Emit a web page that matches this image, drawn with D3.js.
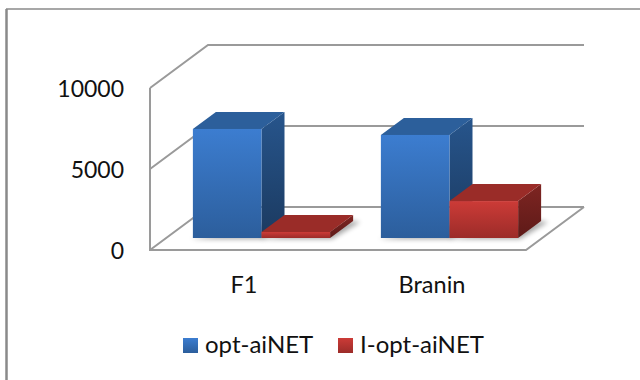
<!DOCTYPE html>
<html>
<head>
<meta charset="utf-8">
<script src="https://cdn.jsdelivr.net/npm/d3@7"></script>
<style>
  html, body { margin: 0; padding: 0; background: #fff; }
  svg { display: block; }
  text { font-family: Lato, "Open Sans", sans-serif; fill: #111; }
</style>
</head>
<body>
<svg width="640" height="380"></svg>
<script>
const categories = ["F1", "Branin"];
const seriesNames = ["opt-aiNET", "I-opt-aiNET"];
const optValues = [6730, 6360];
const iOptValues = [370, 2280];
const yTicks = [0, 5000, 10000];

const seriesColors = {
  "opt-aiNET": { top: "#2c5f9b", hi: "#3c7dd0", lo: "#2c5e9c", sideHi: "#27558c", sideLo: "#1b3a60" },
  "I-opt-aiNET": { top: "#9a2c28", hi: "#cc3b37", lo: "#9c2c29", sideHi: "#7e2522", sideLo: "#5e1a18" }
};

const svg = d3.select("svg");
const defs = svg.append("defs");

// 3d box layout
const floorX = [150, 526];
const floorY = 250;
const wallDx = 58, wallDy = -43;
const barInsetX = 17.5, barInsetY = -12;
const barDx = 23, barDy = -17;

const yScale = d3.scaleLinear().domain([0, 10000]).range([floorY, 88]);

const x0 = d3.scaleBand().domain(categories).range(floorX);
const x1 = d3.scaleBand()
  .domain(seriesNames)
  .range([0, x0.bandwidth()])
  .paddingInner(0)
  .paddingOuter(0.37);

const rows = seriesNames.flatMap((s, si) =>
  categories.map((c, ci) => ({ series: s, cat: c, value: [optValues, iOptValues][si][ci] }))
);

const line = d3.line();

// gradients
Object.entries(seriesColors).forEach(([name, c], i) => {
  const front = defs.append("linearGradient").attr("id", `front${i}`)
    .attr("x1", 0).attr("y1", 0).attr("x2", 0).attr("y2", 1);
  front.append("stop").attr("offset", 0).attr("stop-color", c.hi);
  front.append("stop").attr("offset", 1).attr("stop-color", c.lo);
  const side = defs.append("linearGradient").attr("id", `side${i}`)
    .attr("x1", 0).attr("y1", 0).attr("x2", 0).attr("y2", 1);
  side.append("stop").attr("offset", 0).attr("stop-color", c.sideHi);
  side.append("stop").attr("offset", 1).attr("stop-color", c.sideLo);
});
defs.append("filter").attr("id", "blur")
  .attr("x", "-30%").attr("y", "-60%").attr("width", "160%").attr("height", "220%")
  .append("feGaussianBlur").attr("stdDeviation", 2.5);

// outer frame, only top and left are inside the crop
svg.append("line").attr("x1", 6).attr("y1", 9).attr("x2", 640).attr("y2", 9)
  .attr("stroke", "#8a8a8a").attr("stroke-width", 1.5);
svg.append("line").attr("x1", 6.5).attr("y1", 9).attr("x2", 6.5).attr("y2", 380)
  .attr("stroke", "#8a8a8a").attr("stroke-width", 2.5);

// walls and gridlines
const grid = svg.append("g").attr("fill", "none").attr("stroke", "#9a9a9a").attr("stroke-width", 2);
yTicks.forEach((t) => {
  const y = yScale(t);
  const pts = [[floorX[0], y], [floorX[0] + wallDx, y + wallDy], [floorX[1] + wallDx, y + wallDy]];
  grid.append("path").attr("d", line(pts));
});
grid.append("path").attr("d", line([
  [floorX[0], yScale(10000)], [floorX[0], yScale(0)], [floorX[1], yScale(0)],
  [floorX[1] + wallDx, yScale(0) + wallDy]
]));

// tick labels
svg.append("g").selectAll("text").data(yTicks).join("text")
  .attr("x", 124)
  .attr("y", (d) => yScale(d) + 9)
  .attr("text-anchor", "end")
  .attr("font-size", 23)
  .text((d) => d);

// bars
const barX = (d) => x0(d.cat) + x1(d.series) + barInsetX;
const barBase = floorY + barInsetY;
const barTop = (d) => yScale(d.value) + barInsetY;
const w = x1.bandwidth();

const barGroup = svg.append("g");
rows.forEach((d) => {
  const si = seriesNames.indexOf(d.series);
  const g = barGroup.append("g");
  const x = barX(d), t = barTop(d);
  // soft shadow on the floor
  g.append("path")
    .attr("d", line([[x - 2, barBase + 1], [x + w + 2, barBase + 1], [x + w + barDx + 7, barBase + barDy + 1], [x + w + barDx, barBase + barDy]]))
    .attr("fill", "#000").attr("opacity", 0.35).attr("filter", "url(#blur)");
  g.append("path")
    .attr("d", line([[x + w, t], [x + w + barDx, t + barDy], [x + w + barDx, barBase + barDy], [x + w, barBase]]))
    .attr("fill", `url(#side${si})`);
  g.append("path")
    .attr("d", line([[x, t], [x + barDx, t + barDy], [x + w + barDx, t + barDy], [x + w, t]]))
    .attr("fill", seriesColors[d.series].top);
  g.append("rect")
    .attr("x", x).attr("y", t).attr("width", w).attr("height", barBase - t)
    .attr("fill", `url(#front${si})`);
});

// category labels
svg.append("g").selectAll("text").data(categories).join("text")
  .attr("x", (d) => x0(d) + x0.bandwidth() / 2)
  .attr("y", 293)
  .attr("text-anchor", "middle")
  .attr("font-size", 23.5)
  .text((d) => d);

// legend
const legendX = d3.scaleOrdinal().domain(seriesNames).range([183, 338]);
const legend = svg.append("g").selectAll("g").data(seriesNames).join("g")
  .attr("transform", (d) => `translate(${legendX(d)},338)`);
legend.append("rect").attr("width", 15).attr("height", 15)
  .attr("fill", (d, i) => `url(#front${i})`);
legend.append("text").attr("x", 22).attr("y", 15).attr("font-size", 24).text((d) => d);
</script>
</body>
</html>
